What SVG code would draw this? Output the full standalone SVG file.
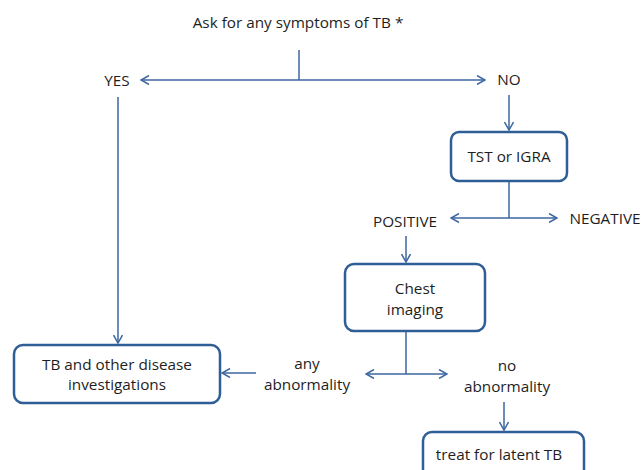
<svg xmlns="http://www.w3.org/2000/svg" width="642" height="470" viewBox="0 0 642 470">
<defs>
<marker id="ah" viewBox="0 0 10 10" refX="9" refY="5" markerWidth="10" markerHeight="10" markerUnits="userSpaceOnUse" orient="auto-start-reverse">
<path d="M1,0.5 L9,5 L1,9.5" fill="none" stroke="#3c66a0" stroke-width="1.5"/>
</marker>
<style>
.t{font-family:"Open Sans","Liberation Sans",sans-serif;font-size:15.3px;fill:#1e1e1e;text-anchor:middle}
.box{fill:#fff;stroke:#2f5d96;stroke-width:2.5}
.c{fill:none;stroke:#3c66a0;stroke-width:1.5}
.a{marker-end:url(#ah)}
.b{marker-start:url(#ah);marker-end:url(#ah)}
</style>
</defs>
<rect width="642" height="470" fill="#fff"/>
<g id="connectors">
<path class="c" d="M299,50 V80"/>
<path class="c b" d="M141,80 H485"/>
<path class="c a" d="M118,97 V343"/>
<path class="c a" d="M509,95 V130"/>
<path class="c" d="M509,181 V218"/>
<path class="c b" d="M451,218 H557"/>
<path class="c a" d="M406,236 V262"/>
<path class="c" d="M406,331 V374"/>
<path class="c b" d="M366,374 H447"/>
<path class="c a" d="M256,373 H222"/>
<path class="c a" d="M504,402 V430"/>
</g>
<g id="start"><text class="t" x="298" y="28">Ask for any symptoms of TB *</text></g>
<g id="yes"><text class="t" x="117" y="86">YES</text></g>
<g id="no"><text class="t" x="509" y="85">NO</text></g>
<g id="tst"><rect class="box" x="451" y="132" width="116" height="49" rx="8"/><text class="t" x="509" y="162">TST or IGRA</text></g>
<g id="positive"><text class="t" x="405" y="227">POSITIVE</text></g>
<g id="negative"><text class="t" x="605" y="224">NEGATIVE</text></g>
<g id="chest"><rect class="box" x="345" y="264" width="140" height="67" rx="9"/><text class="t" x="415" y="294">Chest</text><text class="t" x="415" y="315">imaging</text></g>
<g id="tb"><rect class="box" x="14" y="345" width="206" height="58" rx="9"/><text class="t" x="117" y="370">TB and other disease</text><text class="t" x="117" y="390">investigations</text></g>
<g id="any"><text class="t" x="307" y="369">any</text><text class="t" x="307" y="390">abnormality</text></g>
<g id="noab"><text class="t" x="507" y="371">no</text><text class="t" x="507" y="392">abnormality</text></g>
<g id="treat"><rect class="box" x="423" y="432" width="161" height="50" rx="9"/><text class="t" x="499" y="460">treat for latent TB</text></g>
</svg>
